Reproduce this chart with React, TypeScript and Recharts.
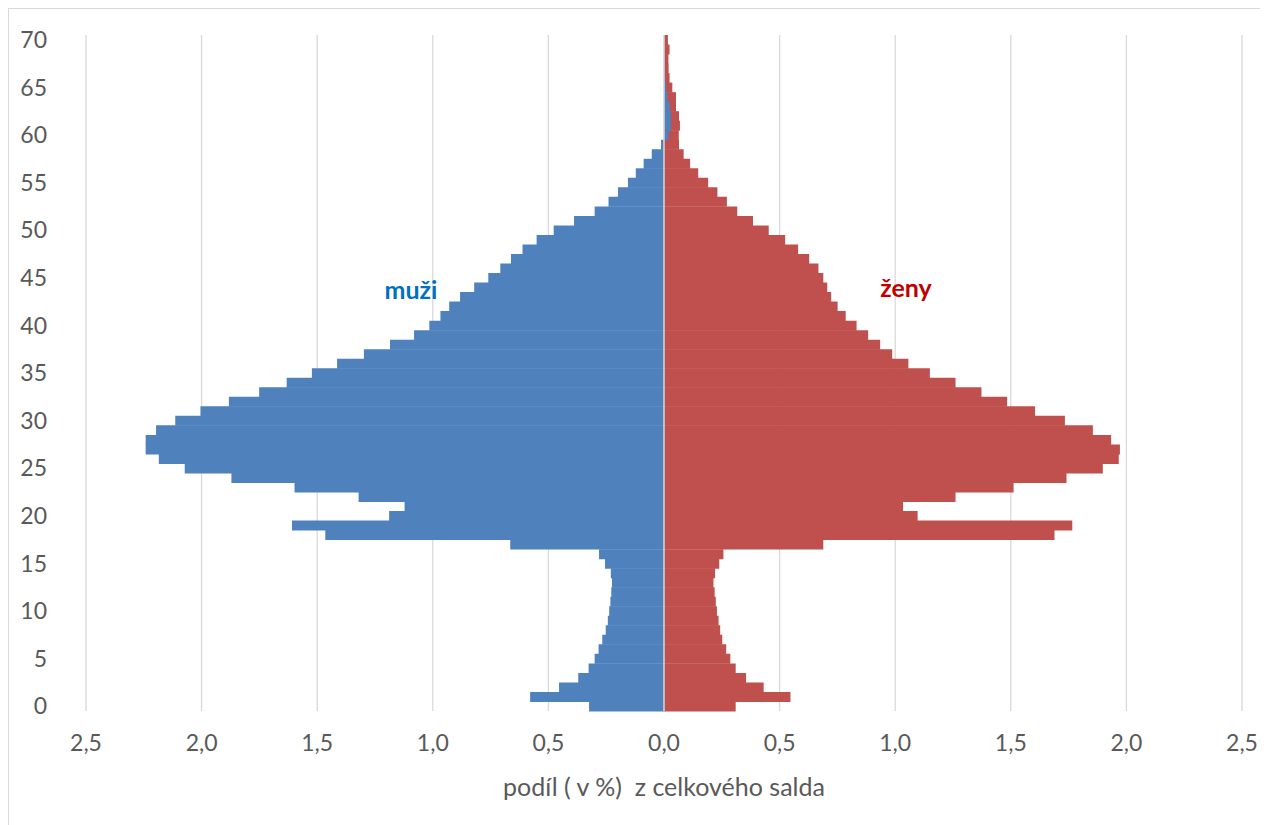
import React from 'react'
import { BarChart, Bar, XAxis, YAxis, CartesianGrid, ReferenceLine, Label } from 'recharts'

// věk 0–70
const ages = Array.from({ length: 71 }, (_, i) => i)

// podíl mužů (záporně = doleva)
const maleShare = [
  -0.324, -0.579, -0.454, -0.371, -0.326, -0.3, -0.283, -0.267, -0.252, -0.243,
  -0.237, -0.232, -0.228, -0.225, -0.23, -0.255, -0.281, -0.665, -1.465, -1.609,
  -1.189, -1.122, -1.321, -1.598, -1.871, -2.073, -2.185, -2.242, -2.242, -2.197,
  -2.114, -2.005, -1.882, -1.751, -1.632, -1.523, -1.414, -1.298, -1.185, -1.081,
  -1.015, -0.967, -0.929, -0.882, -0.821, -0.76, -0.708, -0.662, -0.612, -0.551,
  -0.477, -0.389, -0.3, -0.24, -0.199, -0.156, -0.122, -0.088, -0.053, -0.013,
  0.02, 0.03, 0.03, 0.025, 0.015, 0.01, 0.005, 0.003, 0.002, 0.002, 0.003,
]

// podíl žen
const femaleShare = [
  0.31, 0.547, 0.431, 0.355, 0.31, 0.287, 0.269, 0.252, 0.243, 0.236,
  0.229, 0.224, 0.219, 0.214, 0.221, 0.239, 0.257, 0.689, 1.689, 1.766,
  1.097, 1.034, 1.261, 1.512, 1.741, 1.898, 1.967, 1.972, 1.934, 1.855,
  1.734, 1.605, 1.484, 1.373, 1.261, 1.15, 1.057, 0.987, 0.935, 0.883,
  0.833, 0.786, 0.751, 0.723, 0.706, 0.689, 0.668, 0.628, 0.58, 0.524,
  0.453, 0.385, 0.317, 0.272, 0.231, 0.191, 0.148, 0.113, 0.085, 0.065,
  0.064, 0.069, 0.065, 0.052, 0.052, 0.036, 0.024, 0.02, 0.019, 0.024, 0.017,
]

const xTicks = [-2.5, -2, -1.5, -1, -0.5, 0, 0.5, 1, 1.5, 2, 2.5]

const data = ages.map((age, i) => ({ age, muzi: maleShare[i], zeny: femaleShare[i] }))

const FONT = 'Lato, "Open Sans", sans-serif'
const tickStyle = { fill: '#595959', fontSize: 23, fontFamily: FONT }

const fmt = (v: number) => Math.abs(v).toFixed(1).replace('.', ',')

export default function App() {
  return (
    <div style={{ position: 'relative', width: 1260, height: 817 }}>
      <BarChart
        width={1260}
        height={817}
        data={data}
        layout="vertical"
        barCategoryGap={0}
        barGap={0}
        margin={{ top: 27, right: 26, bottom: 74, left: 8 }}
      >
        <CartesianGrid yAxisId="m" horizontal={false} stroke="#D9D9D9" strokeWidth={1.3} />
        <XAxis
          type="number"
          domain={[-2.5, 2.5]}
          ticks={xTicks}
          tickFormatter={fmt}
          axisLine={false}
          tickLine={false}
          tickSize={0}
          tickMargin={24}
          height={40}
          tick={tickStyle}
          allowDataOverflow
        >
          <Label
            value={'podíl ( v %)\u00A0 z celkového salda'}
            position="bottom"
            offset={27}
            style={{ fill: '#595959', fontSize: 25, fontFamily: FONT }}
          />
        </XAxis>
        <YAxis
          yAxisId="m"
          type="category"
          dataKey="age"
          reversed
          interval={4}
          width={70}
          axisLine={false}
          tickLine={false}
          tickSize={0}
          tickMargin={39}
          tick={tickStyle}
        />
        <YAxis yAxisId="f" type="category" dataKey="age" reversed hide width={0} orientation="right" />
        <Bar yAxisId="f" dataKey="zeny" fill="#C0504D" isAnimationActive={false} />
        <Bar yAxisId="m" dataKey="muzi" fill="#4F81BD" isAnimationActive={false} />
        <ReferenceLine yAxisId="m" x={0} stroke="#D9D9D9" strokeWidth={1.5} />
      </BarChart>
      <svg
        width={1260}
        height={817}
        style={{ position: 'absolute', left: 0, top: 0, pointerEvents: 'none' }}
      >
        <line x1={0.5} y1={0} x2={0.5} y2={817} stroke="#D9D9D9" />
        <line x1={0} y1={0.5} x2={1260} y2={0.5} stroke="#D9D9D9" />
        <text x={403} y={291} textAnchor="middle" fill="#0070C0" fontSize={25} fontWeight="bold" fontFamily={FONT}>
          muži
        </text>
        <text x={898} y={289} textAnchor="middle" fill="#C00000" fontSize={25} fontWeight="bold" fontFamily={FONT}>
          ženy
        </text>
      </svg>
    </div>
  )
}
